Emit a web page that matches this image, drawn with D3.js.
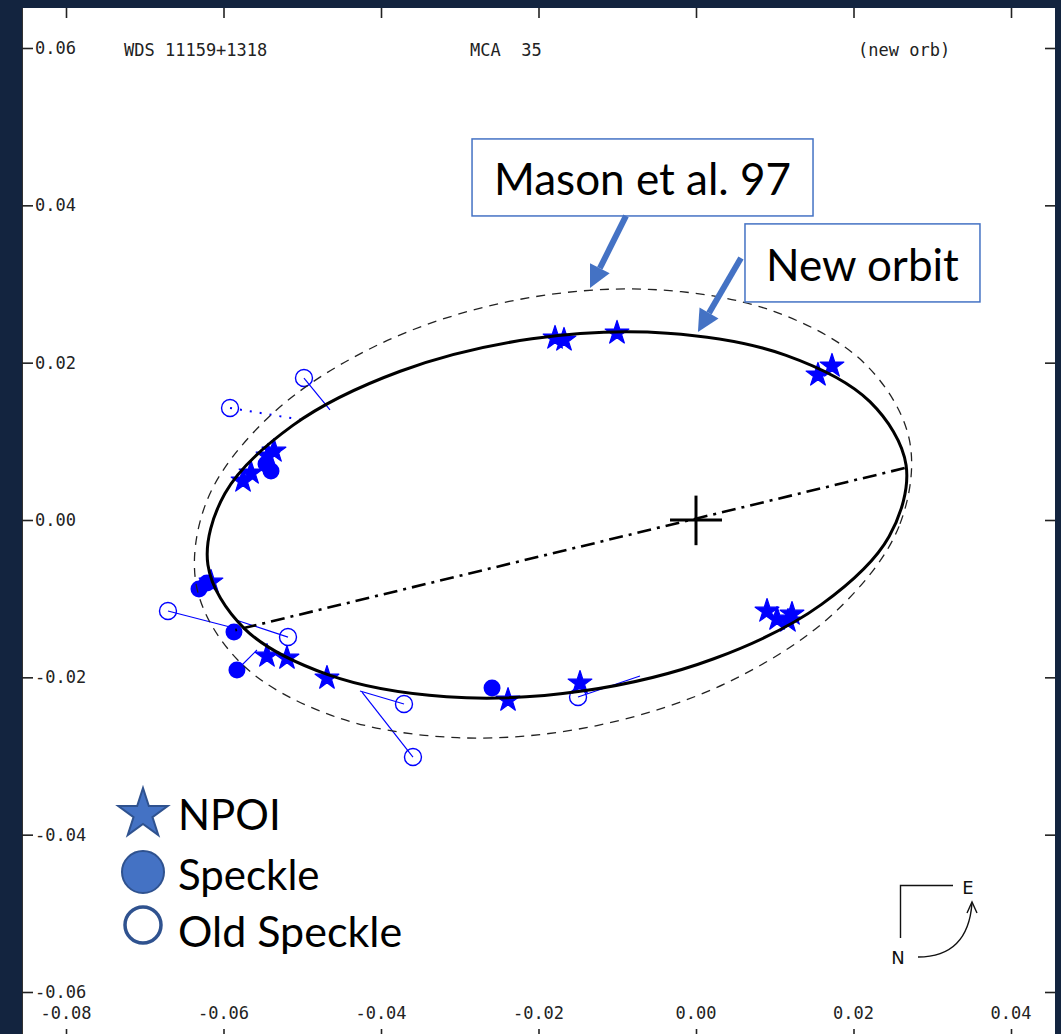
<!DOCTYPE html>
<html>
<head>
<meta charset="utf-8">
<script src="https://cdn.jsdelivr.net/npm/d3@7"></script>
<style>
  html, body { margin: 0; padding: 0; background: #13243f; }
  svg { display: block; }
  .mono { font-family: "DejaVu Sans Mono", monospace; font-size: 17px; fill: #222; white-space: pre; }
  .callout { font-family: Lato, "Open Sans", sans-serif; font-size: 42px; fill: #000; }
  .box-text { font-size: 44px; }
  .compass { font-family: "DejaVu Sans", sans-serif; font-size: 18px; fill: #111; }
</style>
</head>
<body>
<svg id="chart" width="1061" height="1034"></svg>
<script>
// axis ticks (arcsec)
const xTicks = [-0.08, -0.06, -0.04, -0.02, 0, 0.02, 0.04];
const yTicks = [-0.06, -0.04, -0.02, 0, 0.02, 0.04, 0.06];

// new orbit
const newOrbit = [
  [0.02668, 0.00695], [0.02452, -0.00210], [0.01594, -0.01073], [0.00226, -0.01764],
  [-0.01446, -0.02175], [-0.03167, -0.02247], [-0.04674, -0.01966], [-0.05738, -0.01377],
  [-0.06198, -0.00568], [-0.05982, 0.00337], [-0.05124, 0.01200], [-0.03756, 0.01891],
  [-0.02084, 0.02303], [-0.00363, 0.02374], [0.01144, 0.02093], [0.02208, 0.01504]
];

// Mason et al. 1997 orbit
const masonOrbit = [
  [0.02709, 0.01021], [0.02578, -0.00081], [0.01777, -0.01160], [0.00432, -0.02050],
  [-0.01258, -0.02613], [-0.03032, -0.02767], [-0.04621, -0.02487], [-0.05783, -0.01816],
  [-0.06340, -0.00856], [-0.06210, 0.00247], [-0.05408, 0.01325], [-0.04063, 0.02215],
  [-0.02373, 0.02778], [-0.00599, 0.02932], [0.00989, 0.02652], [0.02151, 0.01981]
];

// line of nodes
const nodeLine = [[0.0265, 0.0066], [-0.0585, -0.0140]];

// NPOI measures
const npoi = [
  [-0.01790, 0.02314], [-0.01676, 0.02289], [-0.01003, 0.02378], [0.01727, 0.01958],
  [0.01549, 0.01844], [0.00902, -0.01157], [0.01029, -0.01259], [0.01168, -0.01284],
  [0.01219, -0.01195], [-0.02387, -0.02289], [-0.01473, -0.02072], [-0.04686, -0.02009],
  [-0.05448, -0.01729], [-0.05194, -0.01755], [-0.05752, 0.00496], [-0.05651, 0.00598],
  [-0.05435, 0.00814], [-0.05359, 0.00877], [-0.06159, -0.00788]
];

// speckle measures
const speckle = [
  [-0.06311, -0.00877], [-0.06210, -0.00801], [-0.05867, -0.01424], [-0.05829, -0.01907],
  [-0.02590, -0.02136], [-0.05397, 0.00623], [-0.05460, 0.00712]
];
const speckleResid = [
  [[-0.05829, -0.01907], [-0.05575, -0.01653]]
];

// old speckle measures and their O-C ends
const oldSpeckle = [
  [-0.05917, 0.01424], [-0.04978, 0.01805], [-0.06705, -0.01157], [-0.05181, -0.01488],
  [-0.03708, -0.02339], [-0.03594, -0.03013], [-0.01498, -0.02250]
];
const oldSpeckleEnd = [
  [-0.04990, 0.01271], [-0.04648, 0.01399], [-0.05917, -0.01360], [-0.05841, -0.01271],
  [-0.04267, -0.02174], [-0.04241, -0.02187], [-0.00711, -0.01983]
];
const oldSpeckleDotted = [true, false, false, false, false, false, false];

const headerLabels = ['WDS 11159+1318', 'MCA  35', '(new orb)'];
const legendLabels = ['NPOI', 'Speckle', 'Old Speckle'];
const calloutLabels = ['Mason et al. 97', 'New orbit'];

const W = 1061, H = 1034;
const svg = d3.select('#chart');

const x = d3.scaleLinear().domain([-0.08, 0.04]).range([66, 1011]);
const y = d3.scaleLinear().domain([-0.06, 0.06]).range([992, 48]);

svg.append('rect').attr('width', W).attr('height', H).attr('fill', '#13243f');
svg.append('rect').attr('x', 22).attr('y', 8).attr('width', 1033).attr('height', H - 8).attr('fill', '#fff');
svg.append('line').attr('x1', 22.5).attr('x2', 22.5).attr('y1', 8).attr('y2', H)
  .attr('stroke', '#333').attr('stroke-width', 1);

const fmt = (v) => (Math.abs(v) < 1e-9 ? 0 : v).toFixed(2);

function tickAxis(axis, transform) {
  svg.append('g')
    .attr('transform', transform)
    .attr('color', '#222')
    .call(axis.tickFormat(''))
    .call((g) => g.select('.domain').remove())
    .call((g) => g.selectAll('line').attr('stroke-width', 1.6));
}
tickAxis(d3.axisBottom(x).tickValues(xTicks).tickSize(10), 'translate(0,8)');
tickAxis(d3.axisTop(x).tickValues(xTicks).tickSize(13), `translate(0,${H + 8})`);
tickAxis(d3.axisRight(y).tickValues(yTicks).tickSize(11), 'translate(22,0)');
tickAxis(d3.axisLeft(y).tickValues(yTicks).tickSize(10), 'translate(1055,0)');

svg.append('g').selectAll('text').data(xTicks).join('text')
  .attr('class', 'mono')
  .attr('x', (d) => x(d))
  .attr('y', 1013)
  .attr('text-anchor', 'middle')
  .attr('dominant-baseline', 'central')
  .text(fmt);

svg.append('g').selectAll('text').data(yTicks).join('text')
  .attr('class', 'mono')
  .attr('x', 35)
  .attr('y', (d) => y(d))
  .attr('dominant-baseline', 'central')
  .text(fmt);

svg.append('g').selectAll('text').data(headerLabels).join('text')
  .attr('class', 'mono')
  .attr('x', (d, i) => [124, 470, 858][i])
  .attr('y', 50)
  .attr('dominant-baseline', 'central')
  .text((d) => d);

// residual lines
const resid = svg.append('g').attr('stroke', '#0000ff').attr('stroke-width', 1.2).attr('fill', 'none');
resid.selectAll('line.old').data(oldSpeckle).join('line')
  .attr('class', 'old')
  .attr('x1', (d) => x(d[0])).attr('y1', (d) => y(d[1]))
  .attr('x2', (d, i) => x(oldSpeckleEnd[i][0])).attr('y2', (d, i) => y(oldSpeckleEnd[i][1]))
  .attr('stroke-dasharray', (d, i) => (oldSpeckleDotted[i] ? '2,8' : null))
  .attr('stroke-width', (d, i) => (oldSpeckleDotted[i] ? 2 : 1.2));
resid.selectAll('line.sp').data(speckleResid).join('line')
  .attr('class', 'sp')
  .attr('x1', (d) => x(d[0][0])).attr('y1', (d) => y(d[0][1]))
  .attr('x2', (d) => x(d[1][0])).attr('y2', (d) => y(d[1][1]));

// measures
svg.append('g').selectAll('circle').data(oldSpeckle).join('circle')
  .attr('cx', (d) => x(d[0])).attr('cy', (d) => y(d[1])).attr('r', 8.5)
  .attr('fill', 'none').attr('stroke', '#0000ff').attr('stroke-width', 1.4);

svg.append('g').selectAll('circle').data(speckle).join('circle')
  .attr('cx', (d) => x(d[0])).attr('cy', (d) => y(d[1])).attr('r', 8.5)
  .attr('fill', '#0000ff');

const starPath = d3.symbol(d3.symbolStar, 175)();
svg.append('g').selectAll('path').data(npoi).join('path')
  .attr('d', starPath)
  .attr('transform', (d) => `translate(${x(d[0])},${y(d[1])})`)
  .attr('fill', '#0000ff')
  .attr('stroke', '#0000ff')
  .attr('stroke-width', 1.2)
  .attr('stroke-linejoin', 'round');

// orbits
const orbitLine = d3.line()
  .x((d) => x(d[0]))
  .y((d) => y(d[1]))
  .curve(d3.curveCatmullRomClosed.alpha(0.5));

svg.append('path').attr('d', orbitLine(masonOrbit))
  .attr('fill', 'none').attr('stroke', '#222').attr('stroke-width', 1.3)
  .attr('stroke-dasharray', '9,7');

svg.append('path').attr('d', orbitLine(newOrbit))
  .attr('fill', 'none').attr('stroke', '#000').attr('stroke-width', 3);

svg.append('line')
  .attr('x1', x(nodeLine[0][0])).attr('y1', y(nodeLine[0][1]))
  .attr('x2', x(nodeLine[1][0])).attr('y2', y(nodeLine[1][1]))
  .attr('stroke', '#000').attr('stroke-width', 2.6)
  .attr('stroke-dasharray', '14,6,3,6');

// primary
const cross = svg.append('g').attr('stroke', '#000').attr('stroke-width', 3);
cross.append('line').attr('x1', x(-0.0033)).attr('x2', x(0.0033)).attr('y1', y(0)).attr('y2', y(0));
cross.append('line').attr('x1', x(0)).attr('x2', x(0)).attr('y1', y(0.0031)).attr('y2', y(-0.0032));

// callouts
const callouts = [
  { box: [[-0.02844, 0.04844], [0.01486, 0.03865]], tail: [-0.00889, 0.03865], head: [-0.01346, 0.02950] },
  { box: [[0.00622, 0.03764], [0.03606, 0.02772]], tail: [0.00571, 0.03331], head: [0.00025, 0.02390] }
];
const blue = '#4472c4';
callouts.forEach((c, i) => {
  const [p0, p1] = c.box;
  const bx = x(p0[0]), by = y(p0[1]), bw = x(p1[0]) - x(p0[0]), bh = y(p1[1]) - y(p0[1]);
  svg.append('rect').attr('x', bx).attr('y', by).attr('width', bw).attr('height', bh)
    .attr('fill', '#fff').attr('stroke', blue).attr('stroke-width', 1.5);
  svg.append('text').attr('class', 'callout box-text')
    .attr('x', bx + bw / 2).attr('y', by + bh / 2 + 1)
    .attr('text-anchor', 'middle').attr('dominant-baseline', 'central')
    .text(calloutLabels[i]);

  const x1 = x(c.tail[0]), y1 = y(c.tail[1]), x2 = x(c.head[0]), y2 = y(c.head[1]);
  const L = Math.hypot(x2 - x1, y2 - y1), ux = (x2 - x1) / L, uy = (y2 - y1) / L;
  const hl = 22, hw = 11;
  const sx = x2 - ux * hl, sy = y2 - uy * hl;
  svg.append('line').attr('x1', x1).attr('y1', y1).attr('x2', sx).attr('y2', sy)
    .attr('stroke', blue).attr('stroke-width', 6);
  svg.append('path')
    .attr('d', `M${x2},${y2}L${sx - uy * hw},${sy + ux * hw}L${sx + uy * hw},${sy - ux * hw}Z`)
    .attr('fill', blue);
});

// legend
const legend = svg.append('g').attr('transform', 'translate(143,0)');
const rowsY = [812, 872, 928];
legend.append('path').attr('d', d3.symbol(d3.symbolStar, 760)())
  .attr('transform', `translate(0,${rowsY[0] + 2})`)
  .attr('fill', blue).attr('stroke', '#2f528f').attr('stroke-width', 2);
legend.append('circle').attr('cy', rowsY[1]).attr('r', 21)
  .attr('fill', blue).attr('stroke', '#2f528f').attr('stroke-width', 2);
legend.append('circle').attr('cy', rowsY[2] - 3).attr('r', 18)
  .attr('fill', '#fff').attr('stroke', '#2f528f').attr('stroke-width', 3.5);
legend.selectAll('text').data(legendLabels).join('text')
  .attr('class', 'callout')
  .attr('x', 35)
  .attr('y', (d, i) => rowsY[i] + 2)
  .attr('dominant-baseline', 'central')
  .style('font-size', (d, i) => (i === 2 ? '43px' : '42px'))
  .text((d) => d);

// N-E compass
const compass = svg.append('g').attr('transform', 'translate(900,885)')
  .attr('fill', 'none').attr('stroke', '#111').attr('stroke-width', 1.4);
compass.append('path').attr('d', 'M0.5,53V0.5H53');
compass.append('path').attr('d', 'M18,72Q68,72 72,18');
compass.append('path').attr('d', 'M67,28L72,17L77,28');
svg.append('text').attr('class', 'compass').attr('x', 968).attr('y', 887)
  .attr('text-anchor', 'middle').attr('dominant-baseline', 'central').text('E');
svg.append('text').attr('class', 'compass').attr('x', 898).attr('y', 957)
  .attr('text-anchor', 'middle').attr('dominant-baseline', 'central').text('N');
</script>
</body>
</html>
